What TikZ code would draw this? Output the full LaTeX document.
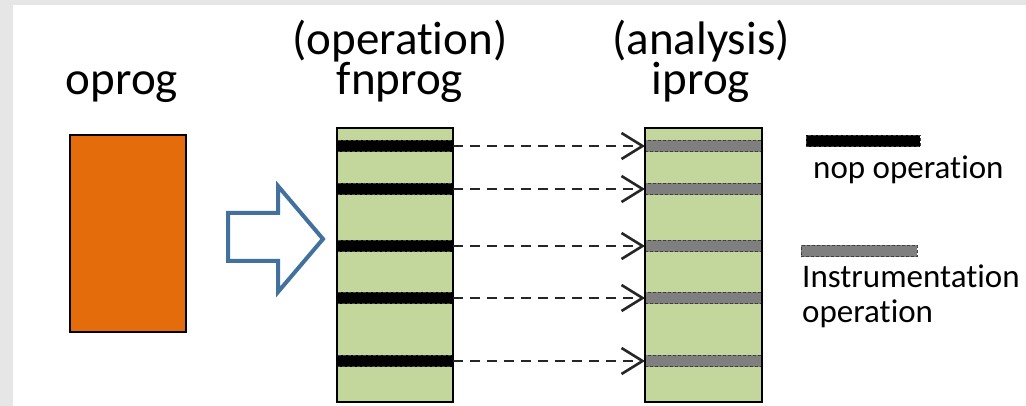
\documentclass[tikz,border=0pt]{standalone}
\usepackage{fontspec}
\setmainfont{Carlito}[Ligatures={NoCommon}]
\usetikzlibrary{arrows.meta}
\definecolor{bggray}{HTML}{E6E6E6}
\definecolor{orangefill}{HTML}{E46C0A}
\definecolor{greenfill}{HTML}{C3D69B}
\definecolor{bandgray}{HTML}{7F7F7F}
\definecolor{arrowblue}{HTML}{41719C}
\begin{document}
\begin{tikzpicture}[x=1pt,y=-1pt,
  progbox/.style={draw=black, line width=1.8pt, inner sep=0pt, outer sep=0pt, minimum width=116pt},
  bandbase/.style={draw=black!75, dash pattern=on 3pt off 2pt, line width=0.8pt, inner sep=0pt, outer sep=0pt, minimum height=11.5pt},
  nopband/.style={bandbase, fill=black, minimum width=116pt},
  instband/.style={bandbase, fill=bandgray, minimum width=116pt},
  flow/.style={draw=black!85, line width=1.8pt, dash pattern=on 10pt off 7pt, -{Straight Barb[length=21pt,width=26pt,line width=2.6pt]}},
  bigtext/.style={font=\fontsize{47}{40}\selectfont, inner sep=0pt, anchor=base, align=center},
  legtext/.style={font=\fontsize{33}{35}\selectfont, inner sep=0pt, anchor=base west, align=left}]
\useasboundingbox (0,0) rectangle (1026,406);
\fill[bggray] (0,0) rectangle (1026,406);
\fill[white] (13,5) rectangle (1026,406);

% titles (base anchor = baseline of last line)
\node[bigtext] (t-oprog) at (122,95) {oprog};
\node[bigtext] (t-fn) at (400,95) {(operation)\\fnprog};
\node[bigtext] (t-ip) at (701,95) {(analysis)\\iprog};

% boxes
\node[progbox, fill=orangefill, minimum height=197pt] (oprog) at (128,233.5) {};
\node[progbox, fill=greenfill, minimum height=274pt] (fnprog) at (395,265) {};
\node[progbox, fill=greenfill, minimum height=274pt, minimum width=117pt] (iprog) at (703.5,265) {};

% bands
\foreach \i/\yy in {1/146,2/189,3/246,4/298,5/361}{
  \node[nopband] (f\i) at (395,\yy) {};
  \node[instband, minimum width=117pt] (g\i) at (703.5,\yy) {};
}
% redraw box outlines on top
\draw[line width=1.8pt] (fnprog.north west) rectangle (fnprog.south east);
\draw[line width=1.8pt] (iprog.north west) rectangle (iprog.south east);

% flows
\foreach \i in {1,...,5}{
  \draw[flow] (f\i.east) -- (g\i.west);
}

% hollow arrow
\draw[arrowblue, line width=4pt, line join=miter]
  (228,213) -- (278,213) -- (278,186) -- (323,239) -- (278,292) -- (278,261) -- (228,261) -- cycle;

% legend
\node[nopband, minimum width=114pt] (leg-nop) at (863,141) {};
\node[legtext] (leg-nop-t) at (813,179) {nop operation};
\node[instband, minimum width=116pt] (leg-inst) at (859,251) {};
\node[legtext] (leg-inst-t) at (802,322) {Instrumentation\\operation};
\end{tikzpicture}
\end{document}
